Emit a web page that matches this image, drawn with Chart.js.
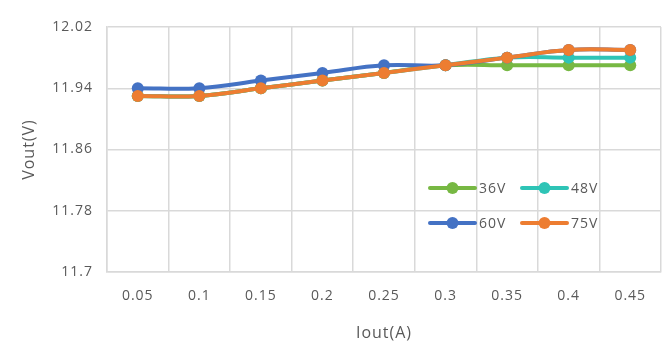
<!DOCTYPE html>
<html><head><meta charset="utf-8">
<script src="https://cdn.jsdelivr.net/npm/chart.js@4/dist/chart.umd.min.js"></script>
<style>html,body{margin:0;padding:0;background:#fff}#wrap{width:671px;height:353px}</style>
</head><body><div id="wrap"><canvas id="c" width="671" height="353"></canvas></div>
<script>
const categories = ['0.05','0.1','0.15','0.2','0.25','0.3','0.35','0.4','0.45'];
const v36 = [11.93,11.93,11.94,11.95,11.96,11.97,11.97,11.97,11.97];
const v48 = [11.93,11.93,11.94,11.95,11.96,11.97,11.98,11.98,11.98];
const v60 = [11.94,11.94,11.95,11.96,11.97,11.97,11.98,11.99,11.99];
const v75 = [11.93,11.93,11.94,11.95,11.96,11.97,11.98,11.99,11.99];
const yTicks = [11.7,11.78,11.86,11.94,12.02];
const seriesNames = ['36V','48V','60V','75V'];
const colors = ['#77B843','#2EC4B6','#4472C4','#ED7D31'];
const FONT = "'Open Sans', 'Liberation Sans', sans-serif";

function ds(i, data){
  return {label: seriesNames[i], data, borderColor: colors[i], backgroundColor: colors[i],
    borderWidth: 4, pointRadius: 6, pointHoverRadius: 6, tension: 0.4, pointBorderWidth:0,
    order: 3 - i};
}
const spacingPlugin = {
  id:'spacing',
  beforeDraw(chart){ chart.ctx.letterSpacing = '1px'; }
};
const legendPlugin = {
  id:'inLegend',
  afterDatasetsDraw(chart){
    const ctx = chart.ctx;
    const pos = [[430,188],[522,188],[430,223],[522,223]];
    ctx.save();
    ctx.font = '14px ' + FONT;
    ctx.textBaseline = 'middle';
    ctx.textAlign = 'left';
    chart.data.datasets.forEach((d,i)=>{
      const [x,y] = pos[i];
      ctx.strokeStyle = d.borderColor; ctx.lineWidth = 4; ctx.lineCap='round';
      ctx.beginPath(); ctx.moveTo(x,y); ctx.lineTo(x+45,y); ctx.stroke();
      ctx.fillStyle = d.borderColor;
      ctx.beginPath(); ctx.arc(x+22.5,y,6,0,Math.PI*2); ctx.fill();
      ctx.fillStyle = '#595959';
      ctx.fillText(d.label, x+49, y+1);
    });
    ctx.restore();
  }
};
new Chart(document.getElementById('c'), {
  type:'line',
  data:{labels:categories, datasets:[ds(0,v36),ds(1,v48),ds(2,v60),ds(3,v75)]},
  options:{
    responsive:false, animation:false, devicePixelRatio:1,
    layout:{padding:{top:27,right:10,left:0,bottom:0}},
    plugins:{legend:{display:false}, tooltip:{enabled:false}},
    scales:{
      x:{offset:true, grid:{offset:true, color:'#D9D9D9', lineWidth:1.5, drawTicks:false},
        border:{color:'#D9D9D9', width:1.5},
        ticks:{color:'#595959', font:{size:14, family:FONT}, padding:16},
        title:{display:true, text:'Iout(A)', color:'#595959', font:{size:16, family:FONT}, padding:{top:0,bottom:10}},
        afterFit(s){ s.height = 81; }
      },
      y:{min:11.7, max:12.02,
        afterBuildTicks(s){ s.ticks = yTicks.map(v=>({value:v})); },
        grid:{color:'#D9D9D9', lineWidth:1.5, drawTicks:false},
        border:{color:'#D9D9D9', width:1.5},
        ticks:{color:'#595959', font:{size:14, family:FONT}, padding:14,
          callback:(v)=>String(Math.round(v*100)/100)},
        title:{display:true, text:'Vout(V)', color:'#595959', font:{size:16, family:FONT}, padding:{top:20,bottom:0}},
        afterFit(s){ s.width = 107; }
      }
    }
  },
  plugins:[spacingPlugin, legendPlugin]
});
</script></body></html>
